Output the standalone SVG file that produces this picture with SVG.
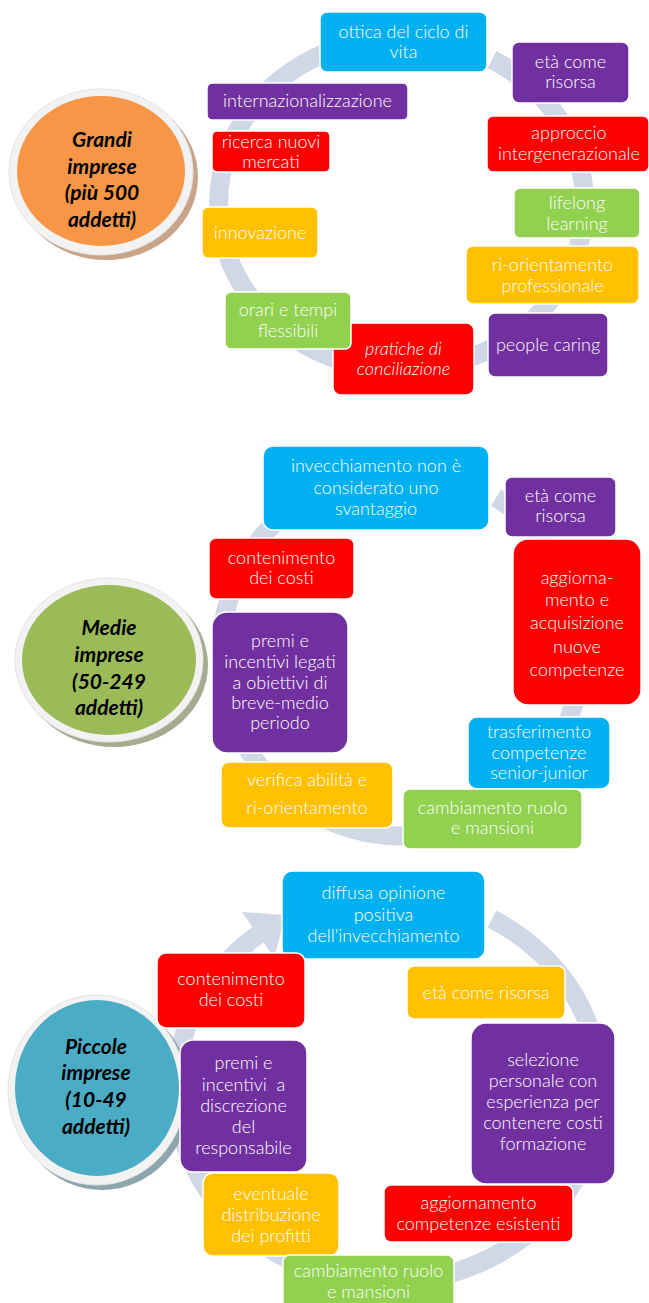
<svg xmlns="http://www.w3.org/2000/svg" width="649" height="1303" viewBox="0 0 649 1303">
<style>
.bx{stroke:#fff;stroke-width:1.5}
.cy{fill:#00B0F0}.pu{fill:#7030A0}.rd{fill:#FF0000}.gr{fill:#92D050}.or{fill:#FFC000}
.t{font-family:Lato,"Open Sans","Liberation Sans",sans-serif;font-size:18px;font-weight:300;fill:#fff;text-anchor:middle;white-space:pre}
.it{font-style:italic}
.ct{font-family:Lato,"Open Sans","Liberation Sans",sans-serif;font-size:21px;font-weight:bold;font-style:italic;fill:#000;text-anchor:middle}
.ring{fill:none;stroke:#D0D8E8;stroke-width:19}
.head{fill:#D0D8E8}
.outer{fill:#F2F2F2;stroke:#E4E4E4;stroke-width:1}
</style>
<rect width="649" height="1303" fill="#fff"/>
<g id="connectors">
<path class="ring" d="M 492 59.5 A 183 166 0 1 1 345 46"/>
<polygon class="head" points="351.8,69 373.8,37.5 338.2,23"/>
<path class="ring" d="M 496 497.6 A 180 183 0 1 1 290 509"/>
<polygon class="head" points="305,527.8 313.5,490.3 275,490.2"/>
<path class="ring" d="M 492 918.95 A 212 194 0 1 1 258 934.8"/>
<polygon class="head" points="274.2,957.6 285.7,915.1 241.8,912"/>
</g>

<g id="grandi">
<ellipse cx="106" cy="177" rx="92" ry="83" fill="#C9A488"/>
<ellipse class="outer" cx="101" cy="172" rx="92" ry="83"/>
<ellipse cx="101" cy="171" rx="84" ry="75" fill="#F79646"/>
<text class="ct"><tspan x="102" y="147">Grandi</tspan><tspan x="102" y="174">imprese</tspan><tspan x="102" y="200">(più 500</tspan><tspan x="102" y="227">addetti)</tspan></text>
</g>
<g id="g-ottica"><rect class="bx cy" x="320" y="12" width="167" height="60" rx="7"/><text class="t"><tspan x="403.5" y="38">ottica del ciclo di</tspan><tspan x="403.5" y="58">vita</tspan></text></g>
<g id="g-eta"><rect class="bx pu" x="512" y="42" width="117" height="61" rx="7"/><text class="t"><tspan x="570.5" y="68">età come</tspan><tspan x="570.5" y="88">risorsa</tspan></text></g>
<g id="g-internaz"><rect class="bx pu" x="207" y="83" width="201" height="37" rx="5"/><text class="t" x="307.5" y="107">internazionalizzazione</text></g>
<g id="g-ricerca"><rect class="bx rd" x="212" y="131" width="118" height="41" rx="5"/><text class="t"><tspan x="271" y="148">ricerca nuovi</tspan><tspan x="271" y="168">mercati</tspan></text></g>
<g id="g-approccio"><rect class="bx rd" x="487" y="116" width="162" height="56" rx="6"/><text class="t"><tspan x="569" y="139">approccio</tspan><tspan x="569" y="160">intergenerazionale</tspan></text></g>
<g id="g-lifelong"><rect class="bx gr" x="514" y="188" width="126" height="50" rx="6"/><text class="t"><tspan x="577" y="209">lifelong</tspan><tspan x="577" y="230">learning</tspan></text></g>
<g id="g-riorient"><rect class="bx or" x="466" y="246" width="173" height="58" rx="7"/><text class="t"><tspan x="552.5" y="271">ri-orientamento</tspan><tspan x="552.5" y="292">professionale</tspan></text></g>
<g id="g-people"><rect class="bx pu" x="488" y="313" width="120" height="64" rx="7"/><text class="t" x="548" y="351">people caring</text></g>
<g id="g-innov"><rect class="bx or" x="202" y="207" width="116" height="51" rx="6"/><text class="t" x="260" y="239">innovazione</text></g>
<g id="g-pratiche"><rect class="bx rd" x="333" y="323" width="141" height="72" rx="8"/><text class="t it"><tspan x="403.5" y="355">pratiche di</tspan><tspan x="403.5" y="375">conciliazione</tspan></text></g>
<g id="g-orari"><rect class="bx gr" x="225" y="292" width="126" height="57" rx="6"/><text class="t"><tspan x="288" y="316">orari e tempi</tspan><tspan x="288" y="337">flessibili</tspan></text></g>

<g id="medie">
<ellipse cx="114" cy="665" rx="94" ry="82" fill="#A4AB8E"/>
<ellipse class="outer" cx="109" cy="660" rx="94" ry="82"/>
<ellipse cx="109" cy="660" rx="87" ry="75" fill="#9BBB59"/>
<text class="ct"><tspan x="109" y="635">Medie</tspan><tspan x="109" y="662">imprese</tspan><tspan x="109" y="689">(50-249</tspan><tspan x="109" y="715">addetti)</tspan></text>
</g>
<g id="m-invecch"><rect class="bx cy" x="263" y="446" width="226" height="84" rx="10"/><text class="t"><tspan x="376" y="472">invecchiamento non è</tspan><tspan x="376" y="494">considerato uno</tspan><tspan x="376" y="515">svantaggio</tspan></text></g>
<g id="m-eta"><rect class="bx pu" x="505" y="477" width="111" height="60" rx="7"/><text class="t"><tspan x="560.5" y="502">età come</tspan><tspan x="560.5" y="522">risorsa</tspan></text></g>
<g id="m-conten"><rect class="bx rd" x="209" y="538" width="145" height="61" rx="7"/><text class="t"><tspan x="281.5" y="564">contenimento</tspan><tspan x="281.5" y="584">dei costi</tspan></text></g>
<g id="m-aggiorn"><rect class="bx rd" x="513" y="539" width="128" height="166" rx="15"/><text class="t"><tspan x="577" y="584">aggiorna-</tspan><tspan x="577" y="606">mento e</tspan><tspan x="577" y="629">acquisizione</tspan><tspan x="577" y="653">nuove</tspan><tspan x="577" y="676">competenze</tspan></text></g>
<g id="m-premi"><rect class="bx pu" x="212" y="612" width="136" height="141" rx="15"/><text class="t"><tspan x="280" y="647">premi e</tspan><tspan x="280" y="668">incentivi legati</tspan><tspan x="280" y="689">a obiettivi di</tspan><tspan x="280" y="709">breve-medio</tspan><tspan x="280" y="729">periodo</tspan></text></g>
<g id="m-trasfer"><rect class="bx cy" x="468" y="717" width="142" height="72" rx="9"/><text class="t"><tspan x="539" y="738">trasferimento</tspan><tspan x="539" y="759">competenze</tspan><tspan x="539" y="779">senior-junior</tspan></text></g>
<g id="m-verifica"><rect class="bx or" x="221" y="762" width="172" height="66" rx="8"/><text class="t"><tspan x="307" y="786">verifica abilità e</tspan><tspan x="307" y="814">ri-orientamento</tspan></text></g>
<g id="m-cambio"><rect class="bx gr" x="403" y="789" width="179" height="60" rx="7"/><text class="t"><tspan x="492.5" y="814">cambiamento ruolo</tspan><tspan x="492.5" y="834">e mansioni</tspan></text></g>

<g id="piccole">
<ellipse cx="102" cy="1095" rx="89" ry="95" fill="#8DA6AE"/>
<ellipse class="outer" cx="97" cy="1090" rx="89" ry="95"/>
<ellipse cx="97" cy="1088" rx="82" ry="88" fill="#4BACC6"/>
<text class="ct"><tspan x="96" y="1054">Piccole</tspan><tspan x="96" y="1080">imprese</tspan><tspan x="96" y="1107">(10-49</tspan><tspan x="96" y="1134">addetti)</tspan></text>
</g>
<g id="p-diffusa"><rect class="bx cy" x="282" y="871" width="203" height="88" rx="10"/><text class="t"><tspan x="383.5" y="899">diffusa opinione</tspan><tspan x="383.5" y="921">positiva</tspan><tspan x="383.5" y="942">dell'invecchiamento</tspan></text></g>
<g id="p-eta"><rect class="bx or" x="407" y="966" width="158" height="53" rx="7"/><text class="t" x="486" y="999">età come risorsa</text></g>
<g id="p-selezione"><rect class="bx pu" x="471" y="1023" width="144" height="161" rx="15"/><text class="t"><tspan x="543" y="1066">selezione</tspan><tspan x="543" y="1087">personale con</tspan><tspan x="543" y="1108">esperienza per</tspan><tspan x="543" y="1129">contenere costi</tspan><tspan x="543" y="1150">formazione</tspan></text></g>
<g id="p-aggiorn"><rect class="bx rd" x="384" y="1185" width="189" height="57" rx="7"/><text class="t"><tspan x="478.5" y="1209">aggiornamento</tspan><tspan x="478.5" y="1230">competenze esistenti</tspan></text></g>
<g id="p-premi"><rect class="bx pu" x="180" y="1040" width="127" height="132" rx="13"/><text class="t"><tspan x="243.5" y="1069">premi e</tspan><tspan x="243.5" y="1091">incentivi  a</tspan><tspan x="243.5" y="1112">discrezione</tspan><tspan x="243.5" y="1133">del</tspan><tspan x="243.5" y="1154">responsabile</tspan></text></g>
<g id="p-conten"><rect class="bx rd" x="157" y="953" width="148" height="75" rx="9"/><text class="t"><tspan x="231" y="985">contenimento</tspan><tspan x="231" y="1006">dei costi</tspan></text></g>
<g id="p-eventuale"><rect class="bx or" x="203" y="1173" width="136" height="83" rx="10"/><text class="t"><tspan x="271" y="1200">eventuale</tspan><tspan x="271" y="1221">distribuzione</tspan><tspan x="271" y="1242">dei profitti</tspan></text></g>
<g id="p-cambio"><rect class="bx gr" x="283" y="1255" width="171" height="60" rx="7"/><text class="t"><tspan x="368.5" y="1277">cambiamento ruolo</tspan><tspan x="368.5" y="1298">e mansioni</tspan></text></g>
</svg>
